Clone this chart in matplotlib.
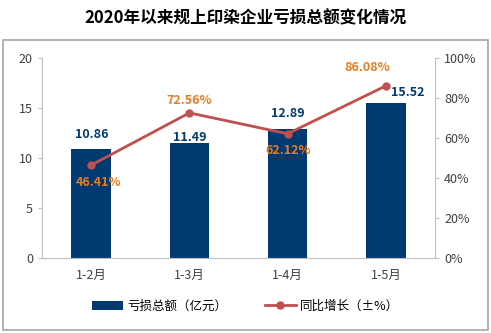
import matplotlib
matplotlib.use("Agg")
import matplotlib.pyplot as plt
from matplotlib.patches import Rectangle

plt.rcParams['font.family'] = ['Noto Sans CJK SC', 'DejaVu Sans']

categories = ["1-2月", "1-3月", "1-4月", "1-5月"]
loss = [10.86, 11.49, 12.89, 15.52]
growth = [46.41, 72.56, 62.12, 86.08]
left_ticks = [0, 5, 10, 15, 20]
right_ticks = [0, 20, 40, 60, 80, 100]

bar_color = "#003A70"
line_color = "#C0504D"
pct_color = "#E97C22"
axis_gray = "#BFBFBF"

fig = plt.figure(figsize=(4.91, 3.33), dpi=100)
fig.patches.append(Rectangle((3/491, 3/333), 485/491, 290/333, transform=fig.transFigure,
                             fill=False, edgecolor="#A6A6A6", linewidth=1.2))
fig.text(0.5, 1 - 18/333, "2020年以来规上印染企业亏损总额变化情况", ha="center", va="center",
         fontsize=12, fontweight="bold")

ax = fig.add_axes([42/491, 1 - 258/333, 393/491, 200/333])
x = list(range(len(categories)))
ax.bar(x, loss, width=0.4, color=bar_color, label="亏损总额（亿元）", zorder=2)
ax.set_xlim(-0.5, 3.5)
ax.set_ylim(0, 20)
ax.set_yticks(left_ticks)
ax.set_xticks(x)
ax.set_xticklabels(categories)
bar_offsets = [(1, 15), (0, 6), (0, 16), (22, 10)]
for v, xi, (dx, dy) in zip(loss, x, bar_offsets):
    ax.annotate(f"{v:.2f}", (xi, v), xytext=(dx, dy), textcoords="offset pixels",
                ha="center", va="center", color=bar_color, fontsize=9, fontweight="bold")

ax2 = ax.twinx()
ax2.plot(x, growth, color=line_color, marker="o", markersize=5, linewidth=2,
         label="同比增长（±%）", zorder=3)
ax2.set_ylim(0, 100)
ax2.set_yticks(right_ticks)
ax2.set_yticklabels([f"{t}%" for t in right_ticks])
pct_offsets = [(7, -17), (0, 12), (1, -17), (-19, 18)]
for v, xi, (dx, dy) in zip(growth, x, pct_offsets):
    ax2.annotate(f"{v:.2f}%", (xi, v), xytext=(dx, dy), textcoords="offset pixels",
                 ha="center", va="center", color=pct_color, fontsize=9, fontweight="bold")

for a in (ax, ax2):
    a.spines["top"].set_visible(False)
    a.spines["left"].set_color(axis_gray)
    a.spines["right"].set_color(axis_gray)
    a.spines["bottom"].set_color(axis_gray)
    a.tick_params(colors="#404040", labelsize=9, length=3)
    a.tick_params(axis="y", color=axis_gray)
ax.tick_params(axis="x", length=0, pad=8)
ax.spines["right"].set_visible(False)
ax2.spines["left"].set_visible(False)
ax2.spines["bottom"].set_visible(False)

h1, l1 = ax.get_legend_handles_labels()
h2, l2 = ax2.get_legend_handles_labels()
fig.legend(h1 + h2, l1 + l2, loc="center", bbox_to_anchor=(0.5, 1 - 306/333), ncol=2,
           frameon=False, fontsize=9, columnspacing=3, handlelength=2.5, handletextpad=0.3)

fig.savefig("out.png", dpi=100)
